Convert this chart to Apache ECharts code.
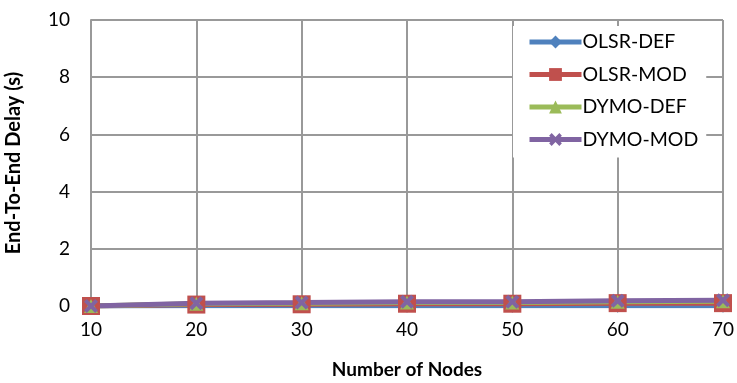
<!DOCTYPE html>
<html>
<head>
<meta charset="utf-8">
<script src="https://cdn.jsdelivr.net/npm/echarts@6/dist/echarts.min.js"></script>
<style>
  html, body { margin: 0; padding: 0; background: #fff; }
  #chart { width: 737px; height: 383px; }
</style>
</head>
<body>
<div id="chart"></div>
<script>
//--------------------------------
// Data
//--------------------------------
const nodes = ['10', '20', '30', '40', '50', '60', '70'];
const olsrDef = [0.0, 0.01, 0.01, 0.01, 0.01, 0.01, 0.01];
const olsrMod = [0.0, 0.05, 0.06, 0.08, 0.08, 0.1, 0.1];
const dymoDef = [0.0, 0.08, 0.1, 0.12, 0.12, 0.15, 0.17];
const dymoMod = [0.0, 0.1, 0.12, 0.15, 0.15, 0.18, 0.2];

const FONT = 'Lato';
const xMark = 'path://M2,0L5,3L8,0L10,2L7,5L10,8L8,10L5,7L2,10L0,8L3,5L0,2Z';

const mkSeries = (name, data, color, symbol, size) => ({
    name: name,
    type: 'line',
    data: data,
    symbol: symbol,
    symbolSize: size,
    showAllSymbol: true,
    lineStyle: { color: color, width: 5 },
    itemStyle: { color: color },
    emphasis: { disabled: true }
});

var myChart = echarts.init(document.getElementById('chart'));

let options = {
    animation: false,
    textStyle: { fontFamily: FONT },
    grid: {
        left: 91,
        right: 14,
        top: 20,
        bottom: 77,
        outerBoundsMode: 'none'
    },
    legend: {
        orient: 'vertical',
        left: 513,
        top: 26,
        itemWidth: 52,
        itemHeight: 16,
        itemGap: 12.5,
        backgroundColor: '#fff',
        padding: [6, 8, 8, 14],
        lineStyle: { width: 5 },
        textStyle: { fontFamily: FONT, fontSize: 19.5, color: '#000', padding: [0, 0, 0, -4] },
        data: ['OLSR-DEF', 'OLSR-MOD', 'DYMO-DEF', 'DYMO-MOD']
    },
    xAxis: {
        type: 'category',
        boundaryGap: false,
        data: nodes,
        name: 'Number of Nodes',
        nameLocation: 'middle',
        nameGap: 54,
        nameTextStyle: { fontFamily: FONT, fontSize: 19, fontWeight: 'bold', color: '#000' },
        axisLine: { lineStyle: { color: '#999', width: 2 } },
        axisTick: { show: false },
        axisLabel: { fontFamily: FONT, fontSize: 19, color: '#000', margin: 14 },
        splitLine: { show: true, lineStyle: { color: '#999', width: 2 } }
    },
    yAxis: {
        type: 'value',
        min: 0,
        max: 10,
        interval: 2,
        name: 'End-To-End Delay (s)',
        nameLocation: 'middle',
        nameGap: 67,
        nameTextStyle: { fontFamily: FONT, fontSize: 20, fontWeight: 'bold', color: '#000' },
        axisLine: { show: true, lineStyle: { color: '#999', width: 2 } },
        axisTick: { show: false },
        axisLabel: { fontFamily: FONT, fontSize: 19, color: '#000', margin: 21 },
        splitLine: { show: true, lineStyle: { color: '#999', width: 2 } }
    },
    series: [
        mkSeries('OLSR-DEF', olsrDef, '#4F81BD', 'diamond', 14),
        mkSeries('OLSR-MOD', olsrMod, '#C0504D', 'rect', 18),
        mkSeries('DYMO-DEF', dymoDef, '#9BBB59', 'triangle', 14),
        mkSeries('DYMO-MOD', dymoMod, '#8064A2', xMark, 14)
    ]
};

myChart.setOption(options);
</script>
</body>
</html>
